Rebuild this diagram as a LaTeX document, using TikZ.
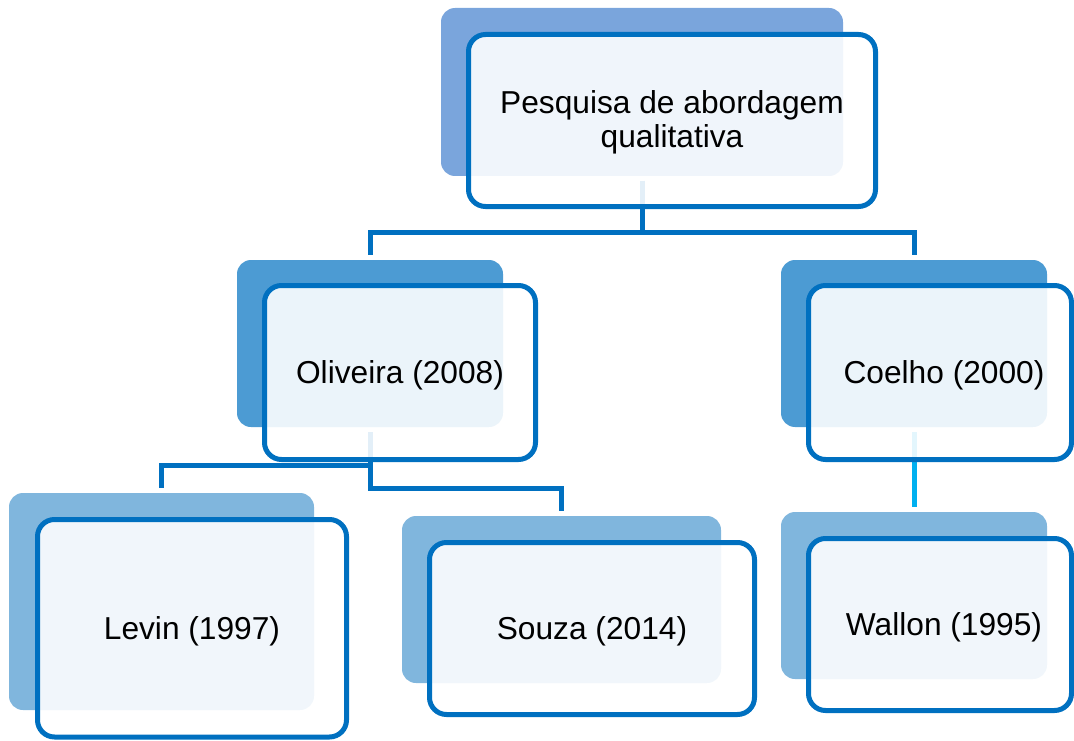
\documentclass[tikz,border=0pt]{standalone}
\usepackage{fontspec}
\setmainfont{Liberation Sans}
\definecolor{lineblue}{HTML}{0070C0}
\definecolor{topback}{HTML}{7AA5DC}
\definecolor{midback}{HTML}{4C9BD3}
\definecolor{lowback}{HTML}{80B6DD}
\definecolor{cyanline}{HTML}{00B0F0}
\newcommand{\lowtxt}[1]{\raisebox{-3pt}[\height][\depth]{#1}}
\begin{document}
\begin{tikzpicture}[x=1pt,y=-1pt,
  backbox/.style={rectangle,rounded corners=14pt,draw=none,inner sep=0pt,outer sep=0pt},
  frontbox/.style={rectangle,rounded corners=17pt,draw=lineblue,line width=5pt,
    fill=white,fill opacity=0.89,text opacity=1,inner sep=0pt,outer sep=0pt,
    font=\fontsize{31.7}{34}\selectfont,align=center},
  conn/.style={draw=lineblue,line width=5pt,line cap=butt,line join=miter},
  connc/.style={draw=cyanline,line width=5pt,line cap=butt}]
\useasboundingbox (0,0) rectangle (1074,741);
% back boxes
\node[backbox,fill=topback,minimum width=402pt,minimum height=168pt] (topb) at (642,92) {};
\node[backbox,fill=midback,minimum width=266pt,minimum height=167pt] (olib) at (370,343.5) {};
\node[backbox,fill=midback,minimum width=266pt,minimum height=167pt] (coeb) at (914,343.5) {};
\node[backbox,fill=lowback,minimum width=305pt,minimum height=217pt] (levb) at (161.5,601.5) {};
\node[backbox,fill=lowback,minimum width=319pt,minimum height=167pt] (souzab) at (561.5,599.5) {};
\node[backbox,fill=lowback,minimum width=266pt,minimum height=167pt] (wallb) at (914,595.5) {};
% connectors
\draw[conn] ([yshift=-5pt]topb.south) -- ++(0,51.5) -| ([yshift=5pt]olib.north);
\draw[conn] ([yshift=-5pt]topb.south) -- ++(0,51.5) -| ([yshift=5pt]coeb.north);
\draw[conn] ([yshift=-5pt]olib.south) -- ++(0,33) -| ([yshift=5pt]levb.north);
\draw[conn] ([yshift=-5pt]olib.south) -- ++(0,56.5) -| ([yshift=5pt]souzab.north);
\draw[connc] ([yshift=-5pt]coeb.south) -- ([yshift=5pt]wallb.north);
% front boxes
\node[frontbox,minimum width=407pt,minimum height=172pt] (topf) at (672,120.5) {\lowtxt{\begin{tabular}{@{}c@{}}Pesquisa de abordagem\\qualitativa\end{tabular}}};
\node[frontbox,minimum width=271pt,minimum height=174pt] (olif) at (400,372.5) {\lowtxt{Oliveira (2008)}};
\node[frontbox,minimum width=263pt,minimum height=174pt] (coef) at (940,372.5) {\lowtxt{\hspace*{8pt}Coelho (2000)}};
\node[frontbox,minimum width=309pt,minimum height=217.5pt] (levf) at (192,628.25) {\lowtxt{Levin (1997)}};
\node[frontbox,minimum width=325pt,minimum height=172pt] (souzaf) at (592,628.5) {\lowtxt{Souza (2014)}};
\node[frontbox,minimum width=263pt,minimum height=172pt] (wallf) at (940,624.5) {\lowtxt{\hspace*{8pt}Wallon (1995)}};
\end{tikzpicture}
\end{document}
